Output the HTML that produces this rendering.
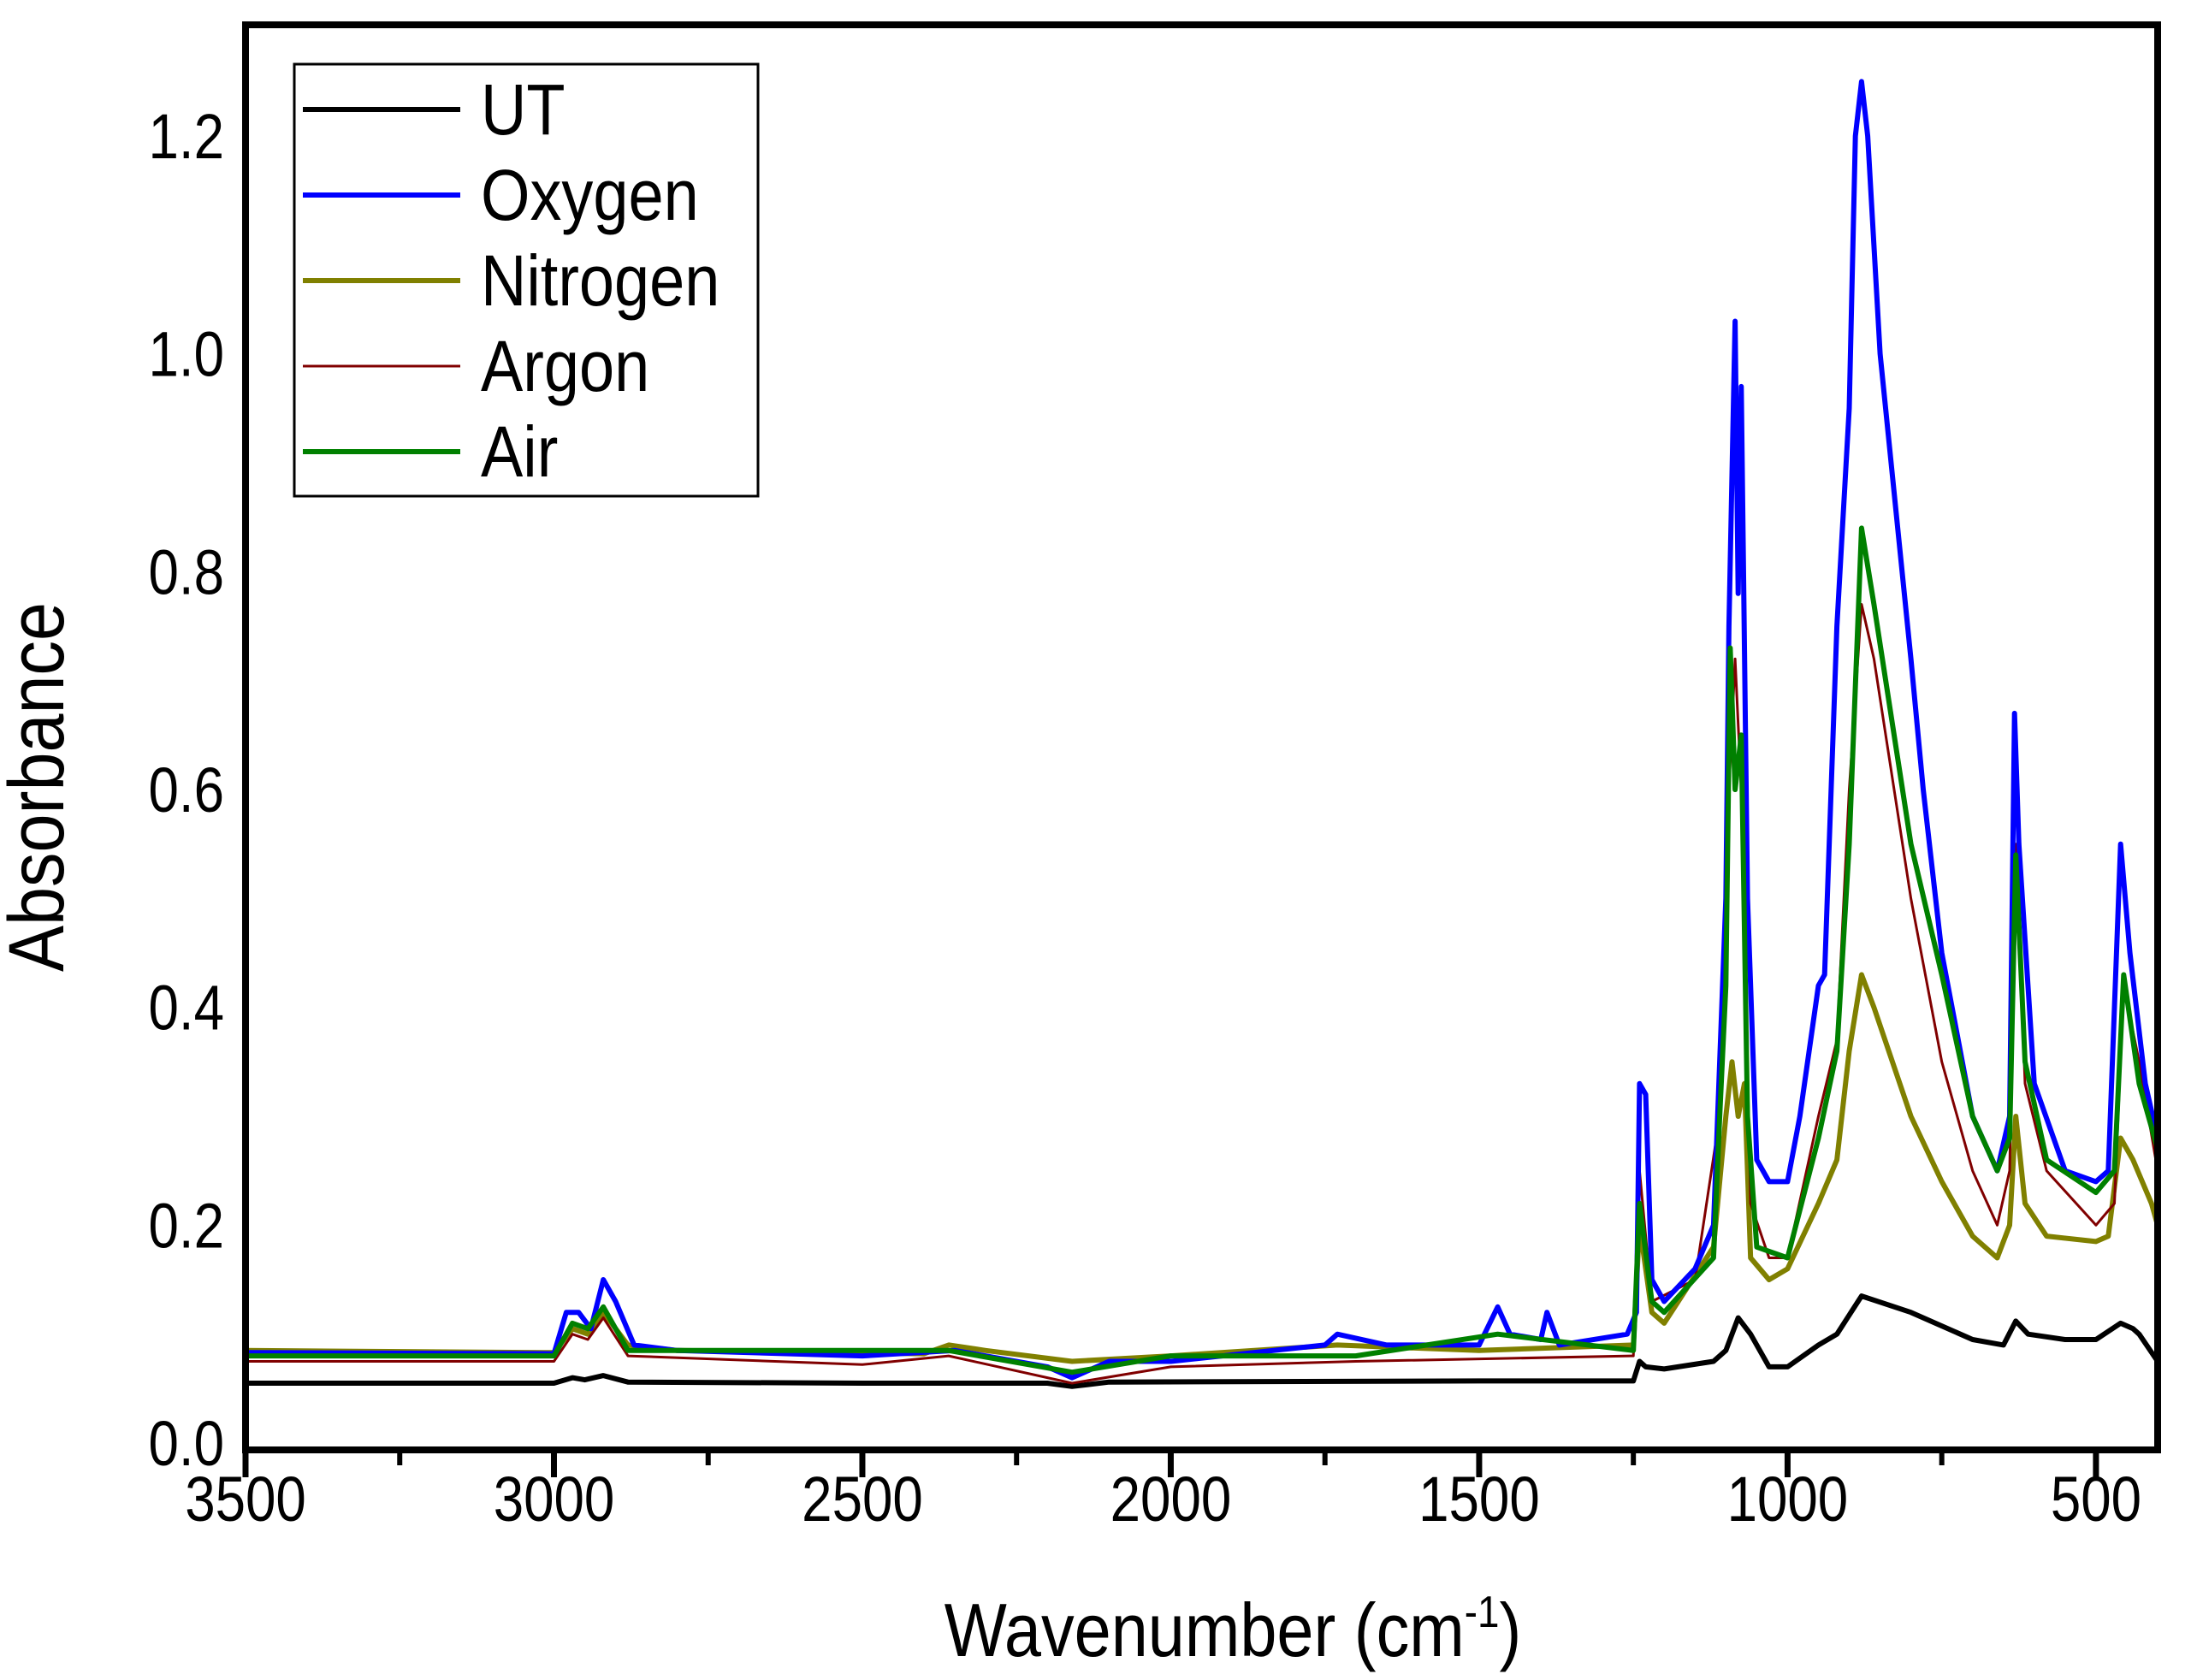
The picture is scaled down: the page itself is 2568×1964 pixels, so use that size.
<!DOCTYPE html>
<html><head><meta charset="utf-8"><style>
html,body{margin:0;padding:0;background:#fff;}
svg{display:block;font-family:"Liberation Sans",Arial,sans-serif;}
</style></head><body>
<svg id="chart" width="2568" height="1964" viewBox="0 0 2568 1964" xmlns="http://www.w3.org/2000/svg">
<g id="series"></g>
<g id="axes"></g>
<rect x="287" y="29" width="2235" height="1666" fill="none" stroke="#000" stroke-width="8"/>
<text x="74" y="920" font-size="92" text-anchor="middle" transform="rotate(-90 74 920) translate(74 0) scale(0.88 1) translate(-74 0)">Absorbance</text>
<text x="1441" y="1936" font-size="88" text-anchor="middle" transform="translate(1441 0) scale(0.88 1) translate(-1441 0)">Wavenumber (cm<tspan dy="-34" font-size="52">-1</tspan><tspan dy="34">)</tspan></text>
<g id="legend">
<rect x="344" y="75" width="542" height="505" fill="#fff" stroke="#000" stroke-width="3"/>
</g>
</svg>
<script>
const xUT=[3500,3000,2970,2950,2920,2880,2500,2200,2160,2100,1500,1250,1240,1230,1200,1120,1100,1080,1060,1030,1000,950,920,880,800,700,650,630,610,550,500,460,440,430,400];
const yUT=[0.055,0.055,0.06,0.058,0.062,0.056,0.055,0.055,0.052,0.056,0.057,0.057,0.075,0.07,0.068,0.075,0.085,0.115,0.1,0.07,0.07,0.09,0.1,0.135,0.12,0.095,0.09,0.112,0.1,0.095,0.095,0.11,0.105,0.1,0.075];
const xO2=[3500,3000,2980,2960,2940,2920,2900,2870,2800,2500,2350,2200,2160,2100,2000,1750,1730,1650,1500,1470,1450,1400,1390,1370,1260,1245,1240,1230,1220,1200,1150,1120,1110,1100,1095,1085,1080,1075,1065,1050,1030,1000,980,950,940,920,900,890,880,870,850,800,780,750,700,660,640,632,625,600,550,500,480,460,445,420,400];
const yO2=[0.083,0.082,0.12,0.12,0.105,0.15,0.13,0.09,0.085,0.08,0.085,0.07,0.06,0.075,0.075,0.09,0.1,0.09,0.09,0.125,0.1,0.095,0.12,0.09,0.1,0.12,0.33,0.32,0.15,0.13,0.16,0.2,0.35,0.5,0.75,1.03,0.78,0.97,0.5,0.26,0.24,0.24,0.3,0.42,0.43,0.75,0.95,1.2,1.25,1.2,1.0,0.72,0.6,0.45,0.3,0.25,0.3,0.67,0.55,0.33,0.25,0.24,0.25,0.55,0.45,0.33,0.28];
const xN2=[3500,3000,2970,2945,2920,2880,2800,2400,2360,2300,2160,2000,1730,1500,1250,1240,1220,1200,1120,1100,1090,1080,1070,1060,1030,1000,950,920,900,880,860,800,750,700,660,640,630,615,580,500,480,460,440,410,400];
const yN2=[0.085,0.083,0.105,0.1,0.12,0.09,0.085,0.082,0.09,0.085,0.075,0.08,0.09,0.085,0.09,0.2,0.12,0.11,0.18,0.3,0.35,0.3,0.33,0.17,0.15,0.16,0.22,0.26,0.36,0.43,0.4,0.3,0.24,0.19,0.17,0.2,0.3,0.22,0.19,0.185,0.19,0.28,0.26,0.22,0.2];
const xAr=[3500,3000,2970,2945,2920,2880,2500,2360,2160,2000,1700,1250,1240,1220,1150,1110,1095,1085,1075,1060,1030,1000,950,920,900,880,860,800,750,700,660,640,630,615,580,500,470,455,430,400];
const yAr=[0.075,0.075,0.1,0.095,0.115,0.08,0.072,0.08,0.055,0.07,0.075,0.08,0.25,0.13,0.15,0.3,0.6,0.72,0.6,0.22,0.17,0.17,0.3,0.37,0.6,0.77,0.72,0.5,0.35,0.25,0.2,0.25,0.55,0.33,0.25,0.2,0.22,0.42,0.35,0.25];
const xAir=[3500,3000,2970,2945,2920,2880,2360,2160,2000,1700,1470,1250,1240,1220,1200,1120,1110,1100,1093,1085,1075,1065,1050,1000,950,920,900,880,860,800,750,700,660,640,630,615,580,500,470,455,430,400];
const yAir=[0.08,0.08,0.11,0.105,0.125,0.085,0.085,0.065,0.08,0.08,0.1,0.085,0.22,0.13,0.12,0.17,0.3,0.42,0.73,0.6,0.65,0.3,0.18,0.17,0.28,0.36,0.55,0.84,0.77,0.55,0.43,0.3,0.25,0.28,0.54,0.35,0.26,0.23,0.25,0.43,0.33,0.27];
const xTicks=[3500,3000,2500,2000,1500,1000,500];
const xMinor=[3250,2750,2250,1750,1250,750];
const yTicks=[0.0,0.2,0.4,0.6,0.8,1.0,1.2];
const legendNames=["UT","Oxygen","Nitrogen","Argon","Air"];

const NS="http://www.w3.org/2000/svg";
const L=287,R=2522,T=29,B=1695;
const xMin=400,xMax=3500,y0px=1687;
function sx(w){return L+(xMax-w)/(xMax-xMin)*(R-L);}
function sy(v){return y0px-v*(1528/1.2);}
function mk(tag,attrs){const e=document.createElementNS(NS,tag);for(const k in attrs)e.setAttribute(k,attrs[k]);return e;}

const seriesG=document.getElementById('series');
const order=[["ut",xUT,yUT,"#000000",6],["nitrogen",xN2,yN2,"#808000",6],["argon",xAr,yAr,"#800000",3],["oxygen",xO2,yO2,"#0000ff",6],["air",xAir,yAir,"#008000",6]];
order.forEach(s=>{
  let d="";
  for(let i=0;i<s[1].length;i++){d+=(i?"L":"M")+sx(s[1][i]).toFixed(1)+" "+sy(s[2][i]).toFixed(1);}
  const p=mk('path',{d:d,fill:"none",stroke:s[3],"stroke-width":s[4],"stroke-linejoin":"round"});
  
  
  seriesG.appendChild(p);
});

const ax=document.getElementById('axes');
xTicks.forEach(w=>{
  const t=mk('line',{x1:sx(w),x2:sx(w),y1:B,y2:B+32,stroke:"#000","stroke-width":7});
  
  
  ax.appendChild(t);
  const lb=mk('text',{x:sx(w),y:1778,"font-size":74,"text-anchor":"middle",transform:`translate(${sx(w)} 0) scale(0.86 1) translate(${-sx(w)} 0)`});
  lb.textContent=String(w);
  
  
  ax.appendChild(lb);
});
xMinor.forEach(w=>{
  const t=mk('line',{x1:sx(w),x2:sx(w),y1:B,y2:B+18,stroke:"#000","stroke-width":6});
  
  
  ax.appendChild(t);
});
yTicks.forEach(v=>{
  const lb=mk('text',{x:262,y:sy(v)+26,"font-size":74,"text-anchor":"end",transform:`translate(262 0) scale(0.86 1) translate(-262 0)`});
  lb.textContent=v.toFixed(1);
  
  
  ax.appendChild(lb);
});

const lg=document.getElementById('legend');
const lgCols=["#000000","#0000ff","#808000","#800000","#008000"];
const lgW=[6,6,6,3,6];
legendNames.forEach((n,i)=>{
  const y=128+i*100;
  const ln=mk('line',{x1:354,x2:538,y1:y,y2:y,stroke:lgCols[i],"stroke-width":lgW[i]});
  
  
  lg.appendChild(ln);
  const tx=mk('text',{x:562,y:y+29,"font-size":84,transform:`translate(562 0) scale(0.88 1) translate(-562 0)`});
  tx.textContent=n;
  
  
  lg.appendChild(tx);
});
</script>
</body></html>
